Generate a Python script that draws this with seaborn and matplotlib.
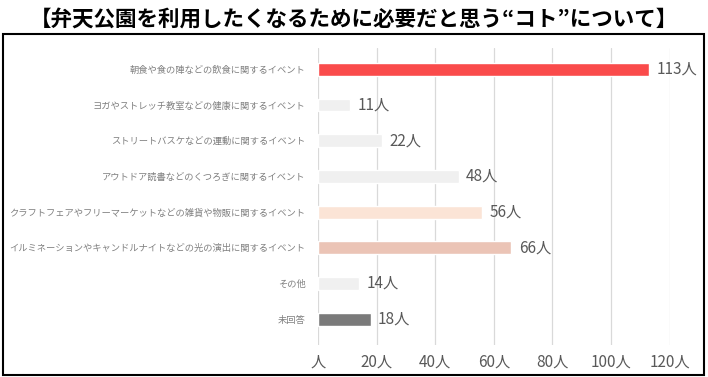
import matplotlib
matplotlib.use("Agg")
import matplotlib.pyplot as plt
import seaborn as sns
import pandas as pd
from matplotlib.patches import Rectangle

# data
categories = [
    "朝食や食の陣などの飲食に関するイベント",
    "ヨガやストレッチ教室などの健康に関するイベント",
    "ストリートバスケなどの運動に関するイベント",
    "アウトドア読書などのくつろぎに関するイベント",
    "クラフトフェアやフリーマーケットなどの雑貨や物販に関するイベント",
    "イルミネーションやキャンドルナイトなどの光の演出に関するイベント",
    "その他",
    "未回答",
]
counts = [113, 11, 22, 48, 56, 66, 14, 18]
bar_colors = ["#FA4B4B", "#F0F0F0", "#F0F0F0", "#F0F0F0",
              "#FBE4D6", "#EBC4B6", "#F0F0F0", "#7A7A7A"]
xticks = [0, 20, 40, 60, 80, 100, 120]
xtick_labels = ["人", "20人", "40人", "60人", "80人", "100人", "120人"]

sns.set_style("white")
plt.rcParams['font.family'] = ['Noto Sans CJK JP', 'DejaVu Sans']

df = pd.DataFrame({"cat": categories, "n": counts})

fig = plt.figure(figsize=(7.08, 3.77), dpi=100)
ax = fig.add_axes([0.449, 0.085, 0.497, 0.788])

sns.barplot(data=df, x="n", y="cat", hue="cat", palette=bar_colors,
            orient="h", width=0.36, legend=False, ax=ax, saturation=1)

for i, v in enumerate(counts):
    ax.text(v + 2.5, i, f"{v}人", va="center", ha="left",
            fontsize=11, color="#595959")

ax.set_xlim(0, 120)
ax.set_ylim(7.72, -0.6)
ax.set_xticks(xticks)
ax.set_xticklabels(xtick_labels, fontsize=11, color="#595959")
ax.tick_params(axis="y", labelsize=6.7, labelcolor="#808080", length=0, pad=9)
ax.tick_params(axis="x", length=0, pad=6)
ax.xaxis.grid(True, color="#D9D9D9", linewidth=0.9)
ax.set_axisbelow(True)
for s in ax.spines.values():
    s.set_visible(False)
ax.set_xlabel("")
ax.set_ylabel("")

fig.text(0.5, 0.95, "【弁天公園を利用したくなるために必要だと思う“コト”について】",
         ha="center", va="center", fontsize=15.5, fontweight="bold", color="black")

fig.patches.append(Rectangle((0.004, 0.006), 0.99, 0.905, transform=fig.transFigure,
                             fill=False, edgecolor="black", linewidth=1.5))

fig.savefig("out.png", dpi=100)
